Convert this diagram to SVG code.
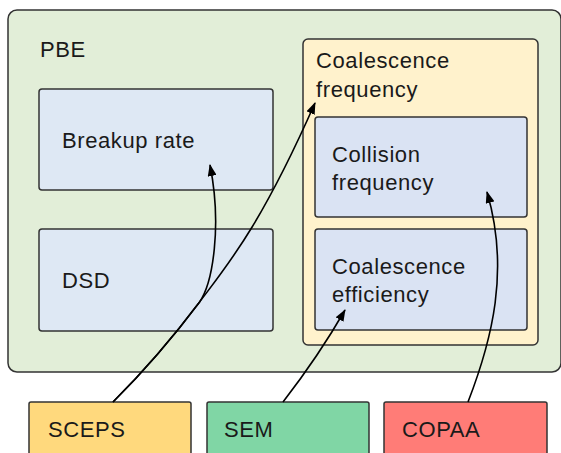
<svg xmlns="http://www.w3.org/2000/svg" width="561" height="453" viewBox="0 0 561 453">
  <defs>
    <marker id="arrow" viewBox="0 0 12 9" refX="11" refY="4.5" markerWidth="12" markerHeight="9" markerUnits="userSpaceOnUse" orient="auto">
      <path d="M0,0 L12,4.5 L0,9 Z" fill="#000"/>
    </marker>
    <style>
      .box { stroke: #333; stroke-width: 1.5; }
      .label { font-family: "Liberation Sans", Arial, sans-serif; font-size: 22px; letter-spacing: 0.6px; fill: #1a1a1a; }
      .edge { fill: none; stroke: #000; stroke-width: 1.6; marker-end: url(#arrow); }
    </style>
  </defs>

  <rect width="561" height="453" fill="#fff"/>

  <g id="pbe">
    <rect class="box" x="8" y="10" width="553" height="362" rx="9" fill="#e2eed8"/>
    <text class="label" x="40" y="57">PBE</text>
  </g>

  <g id="breakup-rate">
    <rect class="box" x="39" y="89" width="234" height="101" rx="3" fill="#dee8f4"/>
    <text class="label" x="62" y="148">Breakup rate</text>
  </g>

  <g id="dsd">
    <rect class="box" x="39" y="229" width="234" height="102" rx="3" fill="#dee8f4"/>
    <text class="label" x="62" y="288">DSD</text>
  </g>

  <g id="coalescence-frequency">
    <rect class="box" x="303" y="39" width="235" height="306" rx="5" fill="#fff2cc"/>
    <text class="label" x="316" y="68">Coalescence</text>
    <text class="label" x="316" y="97">frequency</text>
  </g>

  <g id="collision-frequency">
    <rect class="box" x="315" y="117" width="212" height="100" rx="3" fill="#dae3f3"/>
    <text class="label" x="332" y="162">Collision</text>
    <text class="label" x="332" y="190">frequency</text>
  </g>

  <g id="coalescence-efficiency">
    <rect class="box" x="315" y="229" width="212" height="101" rx="3" fill="#dae3f3"/>
    <text class="label" x="332" y="274">Coalescence</text>
    <text class="label" x="332" y="302">efficiency</text>
  </g>

  <g id="sceps">
    <rect class="box" x="29" y="402" width="162" height="60" rx="2" fill="#ffd97d"/>
    <text class="label" x="48" y="437">SCEPS</text>
  </g>

  <g id="sem">
    <rect class="box" x="207" y="402" width="162" height="60" rx="2" fill="#80d6a5"/>
    <text class="label" x="224" y="437">SEM</text>
  </g>

  <g id="copaa">
    <rect class="box" x="384" y="402" width="163" height="60" rx="2" fill="#ff7c77"/>
    <text class="label" x="402" y="437">COPAA</text>
  </g>

  <g id="connectors">
    <!-- both SCEPS links share the same first stretch, then split near (199,302) -->
    <path class="edge" d="M113,402 C141.8,373.2 171.1,339.9 199.4,302.2 C213,283 222,225 210,165"/>
    <path class="edge" d="M113,402 C141.8,373.2 171.1,339.9 199.4,302.2 C227.7,264.5 260.2,226.8 315,103"/>
    <path class="edge" d="M283,402 C300,380 325,345 345,310"/>
    <path class="edge" d="M468,402 C492,340 510,270 487,192"/>
  </g>
</svg>
